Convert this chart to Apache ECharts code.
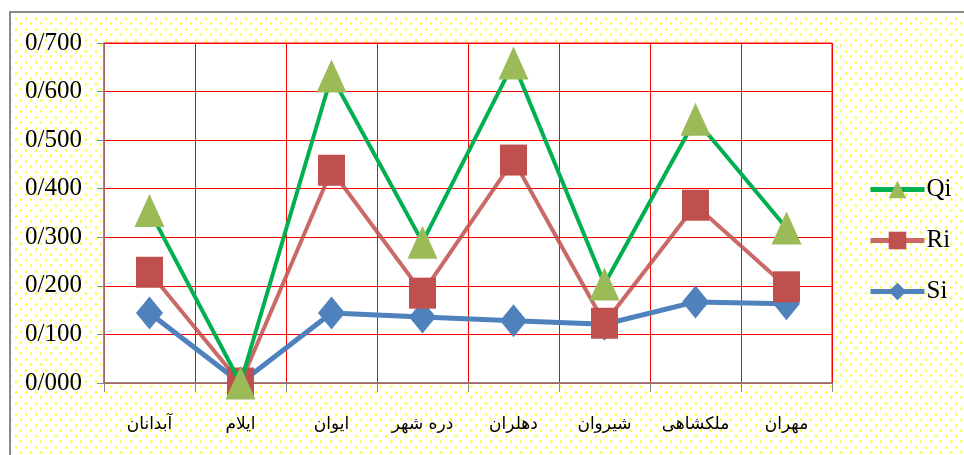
<!DOCTYPE html>
<html><head><meta charset="utf-8">
<script src="https://cdn.jsdelivr.net/npm/echarts@6/dist/echarts.min.js"></script>
<style>
html,body{margin:0;padding:0;background:#fff;}
#frame{position:absolute;left:9px;top:11px;width:960px;height:450px;border:2px solid #8a8a8a;
background-color:#fff;
background-image:radial-gradient(circle,#ffff30 0.9px,transparent 1.6px),radial-gradient(circle,#ffff30 0.9px,transparent 1.6px);
background-size:10px 11px;background-position:0 0,5px 5px;}
#chart{position:absolute;left:0;top:0;width:964px;height:455px;}
</style></head>
<body>
<div id="frame"></div>
<div id="chart"></div>
<script>
const categories = ['آبدانان','ایلام','ایوان','دره شهر','دهلران','شیروان','ملکشاهی','مهران'];
const qi = [0.355, 0.000, 0.632, 0.290, 0.659, 0.204, 0.543, 0.319];
const ri = [0.228, 0.000, 0.438, 0.185, 0.459, 0.123, 0.366, 0.198];
const si = [0.144, 0.000, 0.144, 0.136, 0.128, 0.121, 0.167, 0.163];
const yTicks = ['0/000','0/100','0/200','0/300','0/400','0/500','0/600','0/700'];

const chart = echarts.init(document.getElementById('chart'));
chart.setOption({
  animation:false,
  backgroundColor:'transparent',
  grid:{left:104,right:132,top:43,bottom:72,show:true,backgroundColor:'#fff',borderColor:'#ff0000',borderWidth:1},
  legend:{
    orient:'vertical',left:863,top:172,itemGap:26,itemWidth:54,itemHeight:22,
    data:['Qi','Ri','Si'],
    lineStyle:{width:5},
    textStyle:{fontFamily:'Liberation Serif',fontSize:25,color:'#000',padding:[0,0,0,-3]}
  },
  xAxis:{
    type:'category',data:categories,boundaryGap:true,
    axisLine:{lineStyle:{color:'#868686',width:1.5}},
    axisTick:{show:true,length:9,lineStyle:{color:'#868686'}},
    splitLine:{show:true,lineStyle:{color:'#ff0000',width:1}},
    axisLabel:{margin:33,fontFamily:'DejaVu Sans',fontSize:17,color:'#000'}
  },
  yAxis:{
    type:'value',min:0,max:0.7,interval:0.1,
    axisLine:{show:true,lineStyle:{color:'#868686',width:1.5}},
    axisTick:{show:true,length:7,lineStyle:{color:'#868686'}},
    splitLine:{show:true,lineStyle:{color:'#ff0000',width:1}},
    axisLabel:{margin:22,fontFamily:'Liberation Serif',fontSize:25,color:'#000',
      formatter:(v)=>yTicks[Math.round(v*10)]}
  },
  series:[
    {name:'Si',type:'line',data:si,symbol:'diamond',symbolSize:[27,33],
     lineStyle:{color:'#4F81BD',width:5},itemStyle:{color:'#4F81BD'},z:2},
    {name:'Ri',type:'line',data:ri,symbol:'rect',symbolSize:[27,31],
     lineStyle:{color:'#C0504D',width:4,opacity:0.85},itemStyle:{color:'#C0504D'},z:3},
    {name:'Qi',type:'line',data:qi,symbol:'triangle',symbolSize:[30,33],
     lineStyle:{color:'#00B050',width:4},itemStyle:{color:'#9BBB59'},z:4}
  ]
});
</script>
</body></html>
